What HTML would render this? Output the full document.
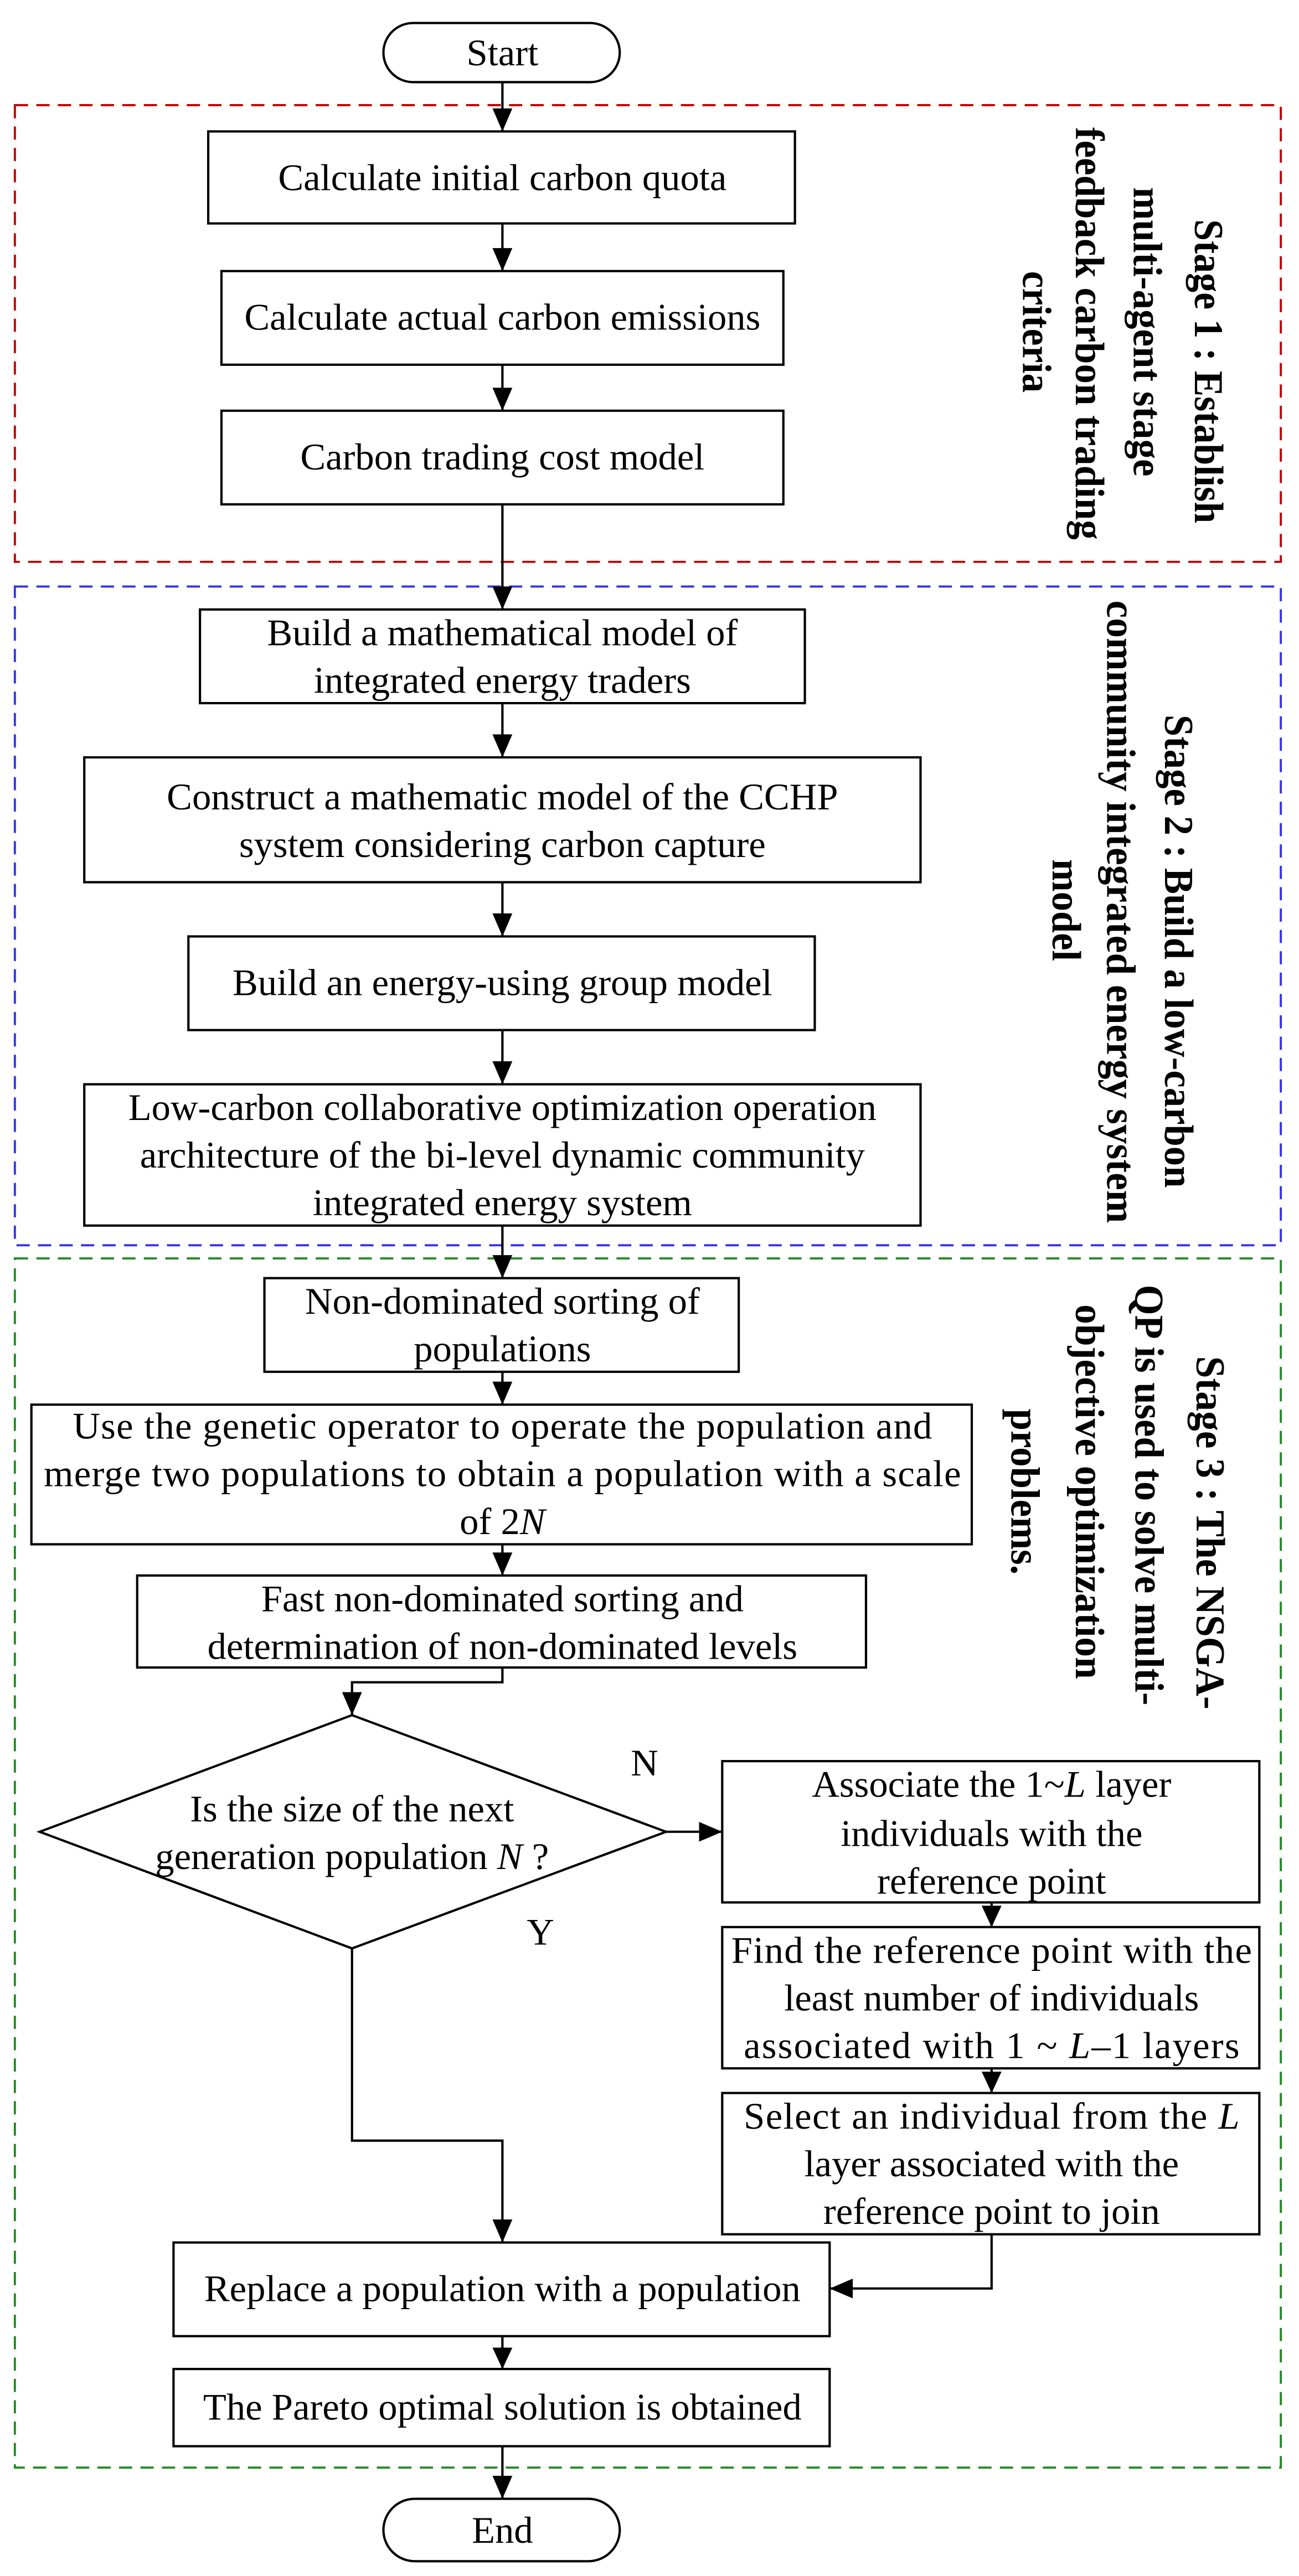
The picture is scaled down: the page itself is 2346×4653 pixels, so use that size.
<!DOCTYPE html>
<html><head><meta charset="utf-8"><style>
html,body{margin:0;padding:0;background:#fff;}
svg{display:block;}
text{font-family:"Liberation Serif",serif;font-size:23px;fill:#000;}
.s{font-weight:bold;font-size:25px;}
</style></head><body>
<svg width="2346" height="4653" viewBox="0 0 786 1568" preserveAspectRatio="none" xmlns="http://www.w3.org/2000/svg">
<g fill="none" stroke-width="1.3" stroke-dasharray="8,5">
<rect x="9" y="64" width="766" height="278" stroke="#c00000"/>
<rect x="9" y="357" width="766" height="401" stroke="#3333ee"/>
<rect x="9" y="766" width="766" height="736" stroke="#228b22"/>
</g>
<g fill="none" stroke="#000" stroke-width="1.4">
<rect x="232" y="14" width="143" height="36" rx="18"/>
<rect x="232" y="1521" width="143" height="38" rx="19"/>
<rect x="126" y="80" width="355" height="56"/>
<rect x="134" y="165" width="340" height="57"/>
<rect x="134" y="250" width="340" height="57"/>
<rect x="121" y="371" width="366" height="57"/>
<rect x="51" y="461" width="506" height="76"/>
<rect x="114" y="570" width="379" height="57"/>
<rect x="51" y="660" width="506" height="86"/>
<rect x="160" y="778" width="287" height="57"/>
<rect x="19" y="855" width="569" height="85"/>
<rect x="83" y="959" width="441" height="56"/>
<polygon points="213,1044 403,1115 213,1186 24,1115"/>
<rect x="437" y="1072" width="325" height="86"/>
<rect x="437" y="1173" width="325" height="86"/>
<rect x="437" y="1274" width="325" height="86"/>
<rect x="105" y="1365" width="397" height="57"/>
<rect x="105" y="1442" width="397" height="47"/>
<path d="M304 50V80M304 136V165M304 222V250M304 307V371M304 428V461M304 537V570M304 627V660M304 746V778M304 835V855M304 940V959M304 1015V1024H213V1044M403 1115H437M600 1158V1173M600 1259V1274M600 1360V1393H502M213 1186V1303H304V1365M304 1422V1442M304 1489V1521"/>
</g>
<g fill="#000">
<polygon points="298,66 310,66 304,80"/>
<polygon points="298,151 310,151 304,165"/>
<polygon points="298,236 310,236 304,250"/>
<polygon points="298,357 310,357 304,371"/>
<polygon points="298,447 310,447 304,461"/>
<polygon points="298,556 310,556 304,570"/>
<polygon points="298,646 310,646 304,660"/>
<polygon points="298,764 310,764 304,778"/>
<polygon points="298,841 310,841 304,855"/>
<polygon points="298,945 310,945 304,959"/>
<polygon points="207,1030 219,1030 213,1044"/>
<polygon points="423,1109 423,1121 437,1115"/>
<polygon points="594,1160 606,1160 600,1173"/>
<polygon points="594,1261 606,1261 600,1274"/>
<polygon points="516,1387 516,1399 502,1393"/>
<polygon points="298,1351 310,1351 304,1365"/>
<polygon points="298,1429 310,1429 304,1442"/>
<polygon points="298,1507 310,1507 304,1521"/>
</g>
<g text-anchor="middle" dominant-baseline="central">
<text x="304" y="32">Start</text>
<text x="304" y="1540">End</text>
<text x="304" y="108">Calculate initial carbon quota</text>
<text x="304" y="193">Calculate actual carbon emissions</text>
<text x="304" y="278">Carbon trading cost model</text>
<text x="304" y="385">Build a mathematical model of</text>
<text x="304" y="414">integrated energy traders</text>
<text x="304" y="485">Construct a mathematic model of the CCHP</text>
<text x="304" y="514">system considering carbon capture</text>
<text x="304" y="598">Build an energy-using group model</text>
<text x="304" y="674">Low-carbon collaborative optimization operation</text>
<text x="304" y="703">architecture of the bi-level dynamic community</text>
<text x="304" y="732">integrated energy system</text>
<text x="304" y="792">Non-dominated sorting of</text>
<text x="304" y="821">populations</text>
<text x="304" y="868" textLength="520">Use the genetic operator to operate the population and</text>
<text x="304" y="897" textLength="555">merge two populations to obtain a population with a scale</text>
<text x="304" y="926">of 2<tspan font-style="italic">N</tspan></text>
<text x="304" y="973">Fast non-dominated sorting and</text>
<text x="304" y="1002">determination of non-dominated levels</text>
<text x="213" y="1101">Is the size of the next</text>
<text x="213" y="1130">generation population <tspan font-style="italic">N</tspan> ?</text>
<text x="390" y="1073">N</text>
<text x="327" y="1176">Y</text>
<text x="600" y="1086">Associate the 1~<tspan font-style="italic">L</tspan> layer</text>
<text x="600" y="1116">individuals with the</text>
<text x="600" y="1145">reference point</text>
<text x="600" y="1187" textLength="315">Find the reference point with the</text>
<text x="600" y="1216">least number of individuals</text>
<text x="600" y="1245" textLength="300">associated with 1 ~ <tspan font-style="italic">L</tspan>–1 layers</text>
<text x="600" y="1288" textLength="300">Select an individual from the <tspan font-style="italic">L</tspan></text>
<text x="600" y="1317">layer associated with the</text>
<text x="600" y="1346">reference point to join</text>
<text x="304" y="1393">Replace a population with a population</text>
<text x="304" y="1465">The Pareto optimal solution is obtained</text>
<g class="s" lengthAdjust="spacingAndGlyphs">
<text class="s" transform="translate(731,226) rotate(90)" textLength="185" lengthAdjust="spacingAndGlyphs">Stage 1 : Establish</text>
<text class="s" transform="translate(694,202) rotate(90)" textLength="176" lengthAdjust="spacingAndGlyphs">multi-agent stage</text>
<text class="s" transform="translate(659,203) rotate(90)" textLength="251" lengthAdjust="spacingAndGlyphs">feedback carbon trading</text>
<text class="s" transform="translate(627,202) rotate(90)" textLength="74" lengthAdjust="spacingAndGlyphs">criteria</text>
<text class="s" transform="translate(713,579) rotate(90)" textLength="288" lengthAdjust="spacingAndGlyphs">Stage 2 : Build a low-carbon</text>
<text class="s" transform="translate(678,555) rotate(90)" textLength="379" lengthAdjust="spacingAndGlyphs">community integrated energy system</text>
<text class="s" transform="translate(645,554) rotate(90)" textLength="62" lengthAdjust="spacingAndGlyphs">model</text>
<text class="s" transform="translate(732,933) rotate(90)" textLength="215" lengthAdjust="spacingAndGlyphs">Stage 3 : The NSGA-</text>
<text class="s" transform="translate(695,910) rotate(90)" textLength="256" lengthAdjust="spacingAndGlyphs">QP is used to solve multi-</text>
<text class="s" transform="translate(659,908) rotate(90)" textLength="228" lengthAdjust="spacingAndGlyphs">objective optimization</text>
<text class="s" transform="translate(620,908) rotate(90)" textLength="101" lengthAdjust="spacingAndGlyphs">problems.</text>
</g>
</g>
</svg>
</body></html>
